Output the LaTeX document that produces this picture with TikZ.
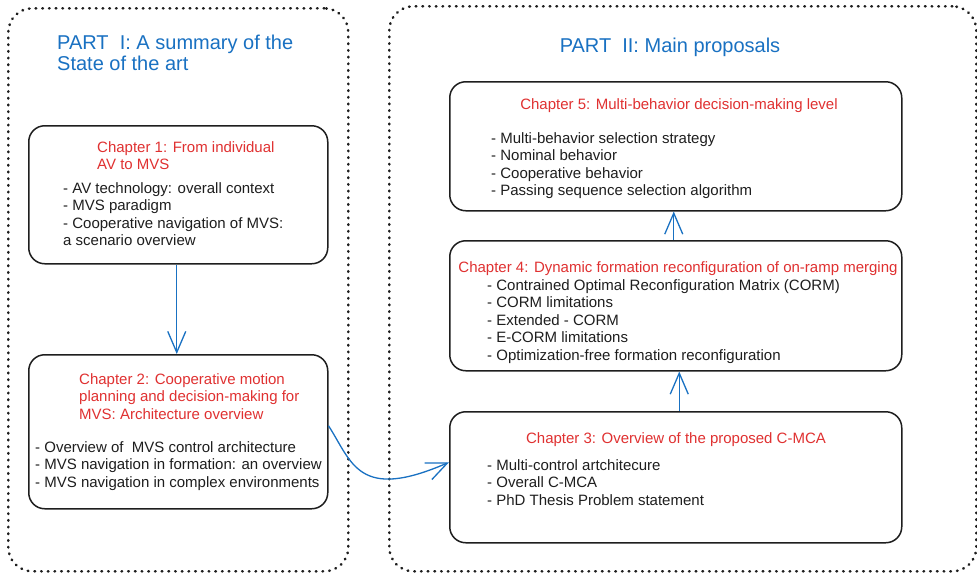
\documentclass[tikz,border=0pt]{standalone}
\usepackage{fontspec}
\setmainfont{Liberation Sans}
\usetikzlibrary{arrows.meta,calc}
\definecolor{exblue}{HTML}{1971C2}
\definecolor{exred}{HTML}{E03131}
\definecolor{exink}{HTML}{1E1E1E}
\tikzset{
  frame/.style={draw=exink, line width=2.6pt, dash pattern=on 0.6pt off 6.1pt, line cap=round, rounded corners=24pt, inner sep=0pt},
  chbox/.style={draw=exink, line width=1.5pt, rounded corners=16pt, fill=white, inner sep=0pt},
  parttitle/.style={text=exblue, font=\fontsize{20}{21}\selectfont, inner sep=0pt, align=left},
  chtitle/.style={text=exred, font=\fontsize{15}{17.5}\selectfont, inner sep=0pt},
  bullets/.style={text=exink, font=\fontsize{15}{17.5}\selectfont, inner sep=0pt, align=left, anchor=north west},
  flow/.style={draw=exblue, line width=1.3pt, -{Straight Barb[length=21pt,width=18pt,line width=1.3pt]}}
}
\begin{document}
\begin{tikzpicture}[x=1pt,y=-1pt]
\useasboundingbox (0,0) rectangle (977,574);
\fill[white] (0,0) rectangle (977,574);

% part frames
\node[frame, anchor=north west, minimum width=340pt, minimum height=563pt] (part1) at (7,7) {};
\node[frame, anchor=north west, minimum width=587pt, minimum height=565pt] (part2) at (388,5) {};

% part titles
\node[parttitle, anchor=north west] (p1title) at (57,35) {PART\ \ I: A summary of the\\State of the art};
\node[parttitle, anchor=north] (p2title) at (670,38) {PART\ \ II: Main proposals};

% chapter boxes
\node[chbox, anchor=north west, minimum width=299pt, minimum height=138pt] (c1) at (28,125) {};
\node[chbox, anchor=north west, minimum width=299pt, minimum height=154pt] (c2) at (28,354) {};
\node[chbox, anchor=north west, minimum width=452pt, minimum height=129pt] (c5) at (449,81) {};
\node[chbox, anchor=north west, minimum width=452pt, minimum height=130pt] (c4) at (449,240) {};
\node[chbox, anchor=north west, minimum width=452pt, minimum height=131pt] (c3) at (449,411) {};

% chapter 1
\node[chtitle, align=left, anchor=north west] (c1title) at (97,141) {Chapter 1: From individual\\AV to MVS};
\node[bullets] (c1list) at (63,182) {- AV technology: overall context\\- MVS paradigm\\- Cooperative navigation of MVS:\\a scenario overview};

% chapter 2
\node[chtitle, align=left, anchor=north west] (c2title) at (79,373) {Chapter 2: Cooperative motion\\planning and decision-making for\\MVS: Architecture overview};
\node[bullets] (c2list) at (35,441) {- Overview of\ \ MVS control architecture\\- MVS navigation in formation: an overview\\- MVS navigation in complex environments};

% chapter 5
\node[chtitle, anchor=north] (c5title) at (679,98) {Chapter 5: Multi-behavior decision-making level};
\node[bullets] (c5list) at (491,132) {- Multi-behavior selection strategy\\- Nominal behavior\\- Cooperative behavior\\- Passing sequence selection algorithm};

% chapter 4
\node[chtitle, anchor=north] (c4title) at (678,261) {Chapter 4: Dynamic formation reconfiguration of on-ramp merging};
\node[bullets] (c4list) at (487,279) {- Contrained Optimal Reconfiguration Matrix (CORM)\\- CORM limitations\\- Extended - CORM\\- E-CORM limitations\\- Optimization-free formation reconfiguration};

% chapter 3
\node[chtitle, anchor=north] (c3title) at (676,432) {Chapter 3: Overview of the proposed C-MCA};
\node[bullets] (c3list) at (487,459) {- Multi-control artchitecure\\- Overall C-MCA\\- PhD Thesis Problem statement};

% connectors
\draw[flow] ($(c1.south)+(-1.5,0)$) -- ($(c2.north)+(-1.5,0)$);
\draw[flow] ($(c2.east)+(0,-6)$) .. controls (352,462) and (358,502) .. ($(c3.west)+(0,-15)$);
\draw[flow] ($(c3.north)+(3.5,0)$) -- ($(c4.south)+(3.5,0)$);
\draw[flow] ($(c4.north)+(-2,0)$) -- ($(c5.south)+(-2,0)$);
\end{tikzpicture}
\end{document}
